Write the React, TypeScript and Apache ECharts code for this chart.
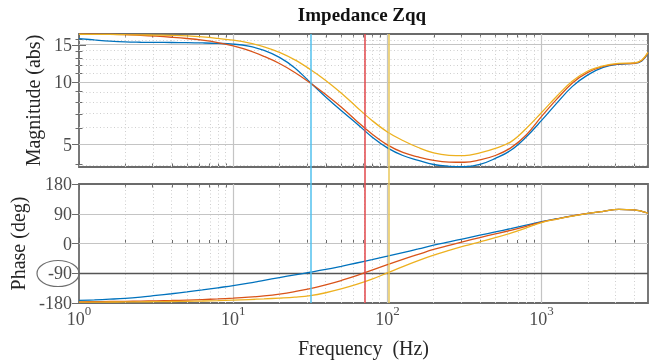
import React, { useEffect, useRef } from 'react';
import * as echarts from 'echarts';

// ---------- data ----------
const FREQ = [1, 1.259, 1.585, 1.995, 2.512, 3.162, 3.981, 5.012, 6.31, 7.943, 10, 12.59, 15.85, 19.95, 25.12, 31.62, 39.81, 50.12, 63.1, 79.43, 100, 125.9, 158.5, 199.5, 251.2, 316.2, 398.1, 501.2, 631, 794.3, 1000, 1259, 1585, 1995, 2512, 3162, 3981, 4467, 4898];

const MAG_BLUE = [16.15, 15.92, 15.71, 15.57, 15.52, 15.49, 15.47, 15.44, 15.4, 15.33, 15.2, 14.86, 14.17, 13.12, 11.68, 9.94, 8.47, 7.29, 6.32, 5.44, 4.82, 4.43, 4.2, 4.01, 3.93, 3.91, 4.01, 4.29, 4.69, 5.44, 6.53, 7.93, 9.52, 10.81, 11.74, 12.16, 12.27, 12.62, 13.71];
const MAG_ORANGE = [16.98, 16.96, 16.93, 16.87, 16.74, 16.59, 16.4, 16.17, 15.87, 15.47, 14.89, 14.17, 13.26, 12.27, 11.11, 9.89, 8.71, 7.58, 6.49, 5.62, 4.98, 4.58, 4.36, 4.2, 4.12, 4.11, 4.22, 4.43, 4.82, 5.56, 6.83, 8.29, 9.89, 11.11, 11.87, 12.2, 12.3, 12.69, 13.79];
const MAG_YELLOW = [16.95, 16.94, 16.93, 16.87, 16.83, 16.79, 16.74, 16.64, 16.46, 16.19, 15.87, 15.4, 14.73, 13.86, 12.76, 11.48, 10.17, 8.85, 7.58, 6.53, 5.75, 5.23, 4.84, 4.56, 4.44, 4.42, 4.56, 4.79, 5.15, 5.97, 7.13, 8.56, 10.11, 11.29, 11.96, 12.27, 12.34, 12.76, 13.86];

const PHASE_BLUE = [-172, -170.5, -168.5, -166, -162, -157, -152, -146.5, -140.5, -134, -127.5, -120, -111.5, -103, -95, -87, -78.5, -69, -59, -49, -38.5, -27.5, -16.5, -5, 5, 15, 25, 35, 45, 55.5, 66, 75, 83.5, 91, 97.5, 103.5, 102, 97.5, 91.5];
const PHASE_ORANGE = [-176.5, -176, -175.5, -175, -174.3, -173.5, -172.5, -171, -169.5, -167.8, -165.5, -162.5, -158.5, -153, -145.5, -136.5, -125, -112, -97.5, -80.5, -64, -48, -33, -18, -5.5, 6.5, 18, 29, 40, 52, 65, 74.5, 83.5, 91, 97.5, 103.5, 102, 97.5, 91.5];
const PHASE_YELLOW = [-177.5, -177.3, -177, -176.8, -176.5, -176, -175.5, -174.8, -174, -172.8, -171.3, -169.5, -167.5, -165, -162, -157.5, -149, -137.5, -124, -108, -89, -70, -52, -35.5, -21, -7.5, 5, 17.5, 31.5, 47, 63.5, 74, 83, 91, 97.5, 103.5, 102, 97.5, 91.5];

const SERIES_NAMES = ['Zqq 1', 'Zqq 2', 'Zqq 3'];
const SERIES_COLORS = ['#0072BD', '#D95319', '#EDB120'];

const MARKER_FREQS = [31.8, 71.5, 102.3];
const MARKER_COLORS = ['#52C0EE', '#E2474B', '#E9C75A'];

const F_MAX = 4898;
const X_DECADES = [0, 1, 2, 3];
const MAG_MIN = 3.9;
const MAG_MAX = 17.0;
const MAG_TICKS = [5, 10, 15];
const MAG_MINOR = [4, 6, 7, 8, 9, 11, 12, 13, 14, 16];
const PHASE_TICKS = [-180, -90, 0, 90, 180];
const PHASE_GRID = [-90, 0, 90];
const PHASE_HIGHLIGHT = -90;

const TITLE = 'Impedance Zqq';
const X_NAME = 'Frequency  (Hz)';
const MAG_NAME = 'Magnitude (abs)';
const PHASE_NAME = 'Phase (deg)';

// ---------- helpers ----------
const lg = Math.log10;
const FONT = "'Liberation Serif', 'Times New Roman', serif";
const BOX = '#6b6b6b';
const LABEL_C = '#4d4d4d';
const NAME_C = '#262626';
const MAJOR_GRID = '#c4c4c4';
const MINOR_GRID = '#cfcfcf';

const xMax = lg(F_MAX);
const xMajor = X_DECADES.map((d) => d);
const xMinor: number[] = [];
X_DECADES.forEach((d) => {
  for (let k = 2; k <= 9; k++) {
    const v = d + lg(k);
    if (v < xMax) xMinor.push(v);
  }
});
const yMagMajor = MAG_TICKS.map(lg);
const yMagMinor = MAG_MINOR.map(lg);

function tickAxis(grid: number, position: string, min: number, max: number, values: number[], len: number, extra: any = {}) {
  return {
    type: 'value',
    gridIndex: grid,
    position,
    min,
    max,
    axisLine: { show: false },
    axisLabel: { show: false },
    splitLine: { show: false },
    axisTick: { show: true, inside: true, length: len, customValues: values, lineStyle: { color: BOX, width: 1 } },
    ...extra,
  };
}

function gridLineSeries(xIdx: number, yIdx: number, items: any[]) {
  return {
    type: 'line',
    xAxisIndex: xIdx,
    yAxisIndex: yIdx,
    data: [],
    silent: true,
    z: 1,
    markLine: {
      silent: true,
      symbol: ['none', 'none'],
      label: { show: false },
      emphasis: { disabled: true },
      animation: false,
      z: 1,
      data: items,
    },
  };
}

const dotted = (axis: 'xAxis' | 'yAxis', v: number) => ({ [axis]: v, lineStyle: { type: [1, 2.5], color: MINOR_GRID, width: 1 } });
const solid = (axis: 'xAxis' | 'yAxis', v: number, color = MAJOR_GRID, width = 1.2) => ({ [axis]: v, lineStyle: { type: 'solid', color, width } });

const xLabelFormatter = (v: number) => {
  const e = Math.round(v);
  if (Math.abs(v - e) > 1e-6) return '';
  return `{b|10}{s|${e}}`;
};

// ---------- option ----------
const magData = [MAG_BLUE, MAG_ORANGE, MAG_YELLOW];
const phaseData = [PHASE_BLUE, PHASE_ORANGE, PHASE_YELLOW];

const yMagMin = lg(MAG_MIN);
const yMagMax = lg(MAG_MAX);

const option: any = {
  animation: false,
  textStyle: { fontFamily: FONT },
  grid: [
    { left: 79, right: 20, top: 34, height: 133, show: true, borderColor: BOX, borderWidth: 1.8, backgroundColor: 'transparent', outerBoundsMode: 'none', containLabel: false },
    { left: 79, right: 20, top: 184, height: 119, show: true, borderColor: BOX, borderWidth: 1.8, backgroundColor: 'transparent', outerBoundsMode: 'none', containLabel: false },
    { left: 79, right: 20, top: 34, bottom: 60, show: false, outerBoundsMode: 'none', containLabel: false },
  ],
  xAxis: [
    tickAxis(0, 'bottom', 0, xMax, xMajor, 6),
    tickAxis(0, 'bottom', 0, xMax, xMinor, 3.5),
    tickAxis(0, 'top', 0, xMax, xMajor, 6),
    tickAxis(0, 'top', 0, xMax, xMinor, 3.5),
    tickAxis(1, 'bottom', 0, xMax, xMajor, 6, {
      axisLabel: {
        show: true,
        customValues: xMajor,
        formatter: xLabelFormatter,
        margin: 1,
        color: LABEL_C,
        rich: {
          b: { fontSize: 18, fontFamily: FONT, color: LABEL_C, verticalAlign: 'bottom', lineHeight: 24 },
          s: { fontSize: 13, fontFamily: FONT, color: LABEL_C, verticalAlign: 'top', lineHeight: 14 },
        },
      },
      name: X_NAME,
      nameLocation: 'middle',
      nameGap: 35,
      nameTextStyle: { fontSize: 20, fontFamily: FONT, color: NAME_C },
    }),
    tickAxis(1, 'bottom', 0, xMax, xMinor, 3.5),
    tickAxis(1, 'top', 0, xMax, xMajor, 6),
    tickAxis(1, 'top', 0, xMax, xMinor, 3.5),
    { type: 'value', gridIndex: 2, min: 0, max: xMax, show: false },
  ],
  yAxis: [
    tickAxis(0, 'left', yMagMin, yMagMax, yMagMajor, 7, {
      axisLabel: {
        show: true,
        customValues: yMagMajor,
        formatter: (v: number) => String(Math.round(Math.pow(10, v))),
        fontSize: 18,
        fontFamily: FONT,
        color: LABEL_C,
        margin: 7,
      },
      name: MAG_NAME,
      nameLocation: 'middle',
      nameGap: 30,
      nameTextStyle: { fontSize: 20, fontFamily: FONT, color: NAME_C },
    }),
    tickAxis(0, 'left', yMagMin, yMagMax, yMagMinor, 3.5),
    tickAxis(0, 'right', yMagMin, yMagMax, yMagMajor, 7),
    tickAxis(0, 'right', yMagMin, yMagMax, yMagMinor, 3.5),
    tickAxis(1, 'left', -180, 180, PHASE_TICKS, 7, {
      interval: 90,
      axisLabel: {
        show: true,
        customValues: PHASE_TICKS,
        fontSize: 18,
        fontFamily: FONT,
        color: LABEL_C,
        margin: 7,
      },
      name: PHASE_NAME,
      nameLocation: 'middle',
      nameGap: 45,
      nameTextStyle: { fontSize: 20, fontFamily: FONT, color: NAME_C },
    }),
    tickAxis(1, 'right', -180, 180, PHASE_TICKS, 7, { interval: 90 }),
    { type: 'value', gridIndex: 2, min: 0, max: 1, show: false },
  ],
  graphic: [
    {
      type: 'text',
      x: 362,
      y: 14,
      style: { text: TITLE, fontSize: 19, fontWeight: 'bold', fontFamily: FONT, fill: '#111', align: 'center', verticalAlign: 'middle' },
    },
    {
      type: 'ellipse',
      shape: { cx: 58, cy: 273.5, rx: 21, ry: 13 },
      style: { fill: 'none', stroke: '#6e6e6e', lineWidth: 1.2 },
      z: 10,
    },
  ],
  series: [
    gridLineSeries(0, 0, [
      ...xMinor.map((v) => dotted('xAxis', v)),
      ...yMagMinor.map((v) => dotted('yAxis', v)),
      ...xMajor.filter((v) => v > 0).map((v) => solid('xAxis', v)),
      ...yMagMajor.map((v) => solid('yAxis', v)),
    ]),
    gridLineSeries(4, 4, [
      ...xMinor.map((v) => dotted('xAxis', v)),
      ...xMajor.filter((v) => v > 0).map((v) => solid('xAxis', v)),
      ...PHASE_GRID.filter((v) => v !== PHASE_HIGHLIGHT).map((v) => solid('yAxis', v)),
      solid('yAxis', PHASE_HIGHLIGHT, '#555555', 1.3),
    ]),
    ...SERIES_NAMES.map((name, i) => ({
      name,
      type: 'line',
      xAxisIndex: 0,
      yAxisIndex: 0,
      data: FREQ.map((f, j) => [lg(f), lg(magData[i][j])]),
      showSymbol: false,
      symbol: 'none',
      smooth: 0.4,
      clip: true,
      lineStyle: { color: SERIES_COLORS[i], width: 1.3 },
      itemStyle: { color: SERIES_COLORS[i] },
      z: 3,
    })),
    ...SERIES_NAMES.map((name, i) => ({
      name: name + ' phase',
      type: 'line',
      xAxisIndex: 4,
      yAxisIndex: 4,
      data: FREQ.map((f, j) => [lg(f), phaseData[i][j]]),
      showSymbol: false,
      symbol: 'none',
      smooth: 0.4,
      clip: true,
      lineStyle: { color: SERIES_COLORS[i], width: 1.3 },
      itemStyle: { color: SERIES_COLORS[i] },
      z: 3,
    })),
    {
      type: 'line',
      xAxisIndex: 8,
      yAxisIndex: 6,
      data: [],
      silent: true,
      markLine: {
        silent: true,
        symbol: ['none', 'none'],
        label: { show: false },
        emphasis: { disabled: true },
        animation: false,
        z: 6,
        data: MARKER_FREQS.map((f, i) => ({ xAxis: lg(f), lineStyle: { type: 'solid', color: MARKER_COLORS[i], width: 1.5 } })),
      },
    },
  ],
};

export default function App() {
  const ref = useRef<HTMLDivElement>(null);
  useEffect(() => {
    if (!ref.current) return;
    const chart = echarts.init(ref.current, undefined, { renderer: 'svg' });
    chart.setOption(option);
    return () => chart.dispose();
  }, []);
  return <div ref={ref} style={{ position: 'fixed', left: 0, top: 0, width: 668, height: 363 }} />;
}
